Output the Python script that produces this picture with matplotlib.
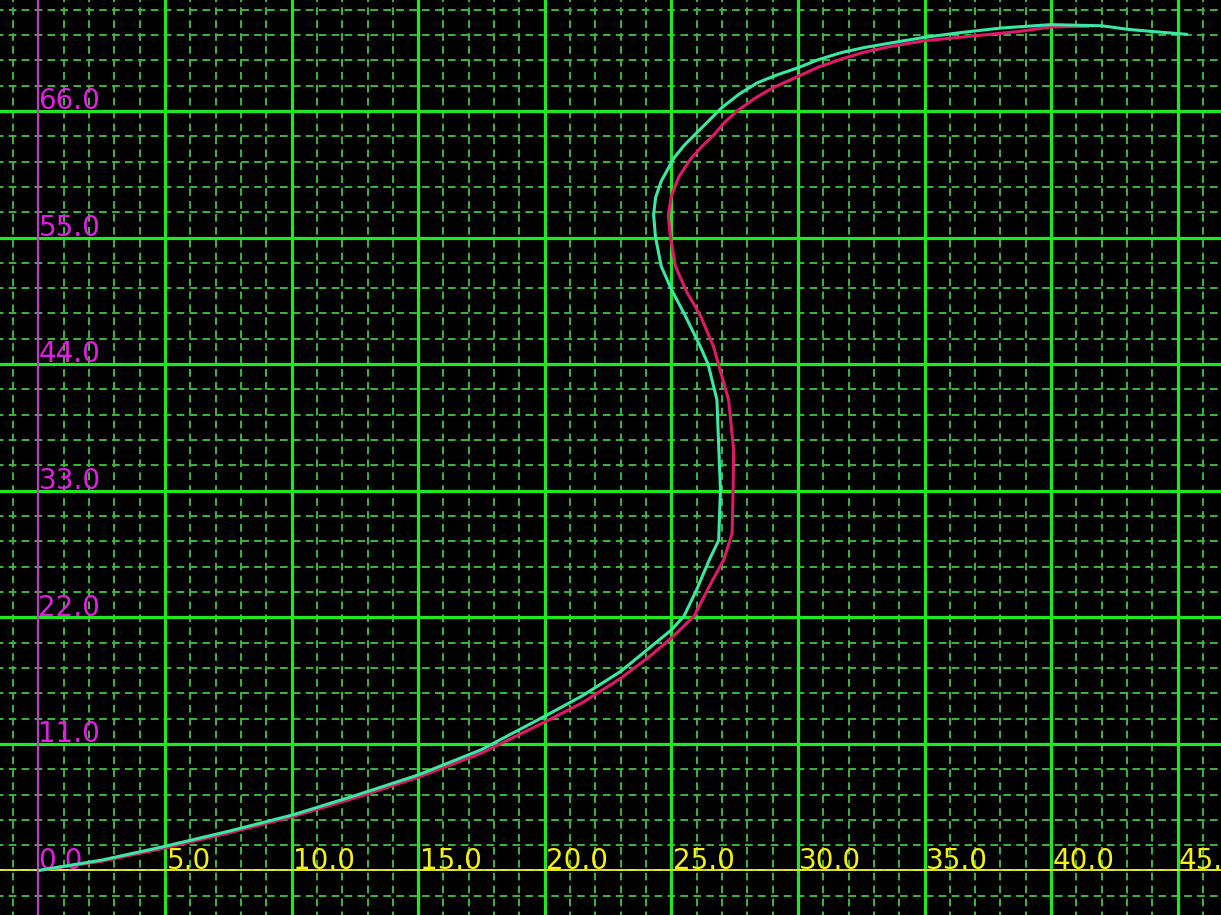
import numpy as np
import matplotlib
matplotlib.use("Agg")
import matplotlib.pyplot as plt

# Trajectory traced by the two runs (x, y)
cyan_x = [0.0, 2.5, 4.9, 7.5, 10.05, 12.5, 15.0, 17.5, 20.0, 21.5, 23.0, 24.0,
          25.0, 25.5, 26.0, 26.5, 26.87, 26.94, 26.85, 26.8, 26.45, 26.15, 25.55,
          25.0, 24.6, 24.37, 24.3, 24.38, 24.6, 25.1, 25.5, 26.0, 26.5, 27.0,
          27.7, 28.4, 29.2, 30.0, 30.8, 31.7, 32.6, 33.65, 35.0, 36.4, 38.0,
          40.0, 42.0, 43.0, 44.0, 45.4]
cyan_y = [0.0, 0.9, 2.05, 3.4, 4.83, 6.5, 8.3, 10.5, 13.4, 15.2, 17.3, 19.1,
          20.9, 22.1, 24.4, 27.0, 28.7, 33.1, 38.0, 40.9, 44.0, 45.5, 48.2,
          50.5, 52.5, 55.1, 57.0, 58.5, 59.9, 61.9, 63.0, 64.1, 65.2, 66.3,
          67.5, 68.45, 69.15, 69.75, 70.45, 71.06, 71.5, 71.9, 72.4, 72.8, 73.2,
          73.5, 73.4, 73.1, 72.9, 72.65]

red_x = [0.0, 2.5, 5.0, 7.5, 10.0, 12.5, 15.0, 17.5, 20.0, 21.5, 23.0, 24.2,
         25.05, 25.9, 26.5, 27.07, 27.4, 27.44, 27.46, 27.26, 26.86, 26.67,
         26.15, 25.6, 25.16, 24.96, 24.88, 25.0, 25.3, 25.75, 26.2, 26.67,
         27.1, 27.6, 28.3, 29.0, 30.0, 30.8, 31.7, 32.6, 33.65, 35.0, 36.4,
         38.7, 40.0, 41.5]
red_y = [0.0, 0.8, 1.95, 3.25, 4.65, 6.3, 8.1, 10.2, 12.9, 14.6, 16.7, 18.7,
         20.3, 22.1, 24.7, 27.0, 29.3, 33.1, 36.6, 40.9, 44.0, 45.5,
         48.2, 50.3, 52.5, 55.1, 56.9, 58.6, 60.3, 61.8, 62.9, 63.9,
         65.0, 66.0, 67.1, 68.0, 69.0, 69.8, 70.5, 71.1, 71.6, 72.1, 72.4,
         72.9, 73.3, 73.35]

x_ticks = [5, 10, 15, 20, 25, 30, 35, 40, 45]
x_labels = ["5.0", "10.0", "15.0", "20.0", "25.0", "30.0", "35.0", "40.0", "45.0"]
y_ticks = [11, 22, 33, 44, 55, 66]
y_labels = ["11.0", "22.0", "33.0", "44.0", "55.0", "66.0"]

plt.rcParams["lines.scale_dashes"] = False

fig = plt.figure(figsize=(12.21, 9.15), dpi=100, facecolor="black")
ax = fig.add_axes([0, 0, 1, 1])
ax.set_facecolor("black")
ax.set_xlim(-1.517, 46.71)
ax.set_ylim(-3.87, 75.64)
ax.axis("off")

major_c = "#1fe81f"
minor_c = "#3cb83c"

# minor dashed grid: every 1.0 in x, every 2.2 in y
for xv in np.arange(-1, 47, 1.0):
    ax.axvline(xv, color=minor_c, lw=1.4, ls=(3, (5.5, 3.8)), zorder=1)
for yv in np.arange(-2.2, 76, 2.2):
    ax.axhline(yv, color=minor_c, lw=1.4, ls=(3, (5.5, 3.8)), zorder=1)

# major solid grid
for xv in np.arange(5, 47, 5):
    ax.axvline(xv, color=major_c, lw=2.3, zorder=2)
for yv in np.arange(11, 76, 11):
    ax.axhline(yv, color=major_c, lw=2.3, zorder=2)

# axes through the origin
ax.axhline(0, color="#f0f030", lw=1.3, zorder=3)
ax.axvline(0, color="#c03cc8", lw=1.6, zorder=3)

# tick labels
lab_font = dict(fontsize=20, family="DejaVu Sans")
for xv, s in zip(x_ticks, x_labels):
    ax.annotate(s, (xv, 0), xytext=(1.0, 1.2), textcoords="offset points",
                ha="left", va="baseline", color="#f4f010", zorder=4, **lab_font)
ax.annotate("0.0", (0, 0), xytext=(0.0, 1.2), textcoords="offset points",
            ha="left", va="baseline", color="#e020e0", zorder=4, **lab_font)
for yv, s in zip(y_ticks, y_labels):
    ax.annotate(s, (0, yv), xytext=(0.0, 1.2), textcoords="offset points",
                ha="left", va="baseline", color="#e020e0", zorder=4, **lab_font)

# curves
ax.plot(red_x, red_y, color="#e0186a", lw=2.2, zorder=5, solid_capstyle="butt")
ax.plot(cyan_x, cyan_y, color="#38e8a4", lw=2.2, zorder=6, solid_capstyle="butt")

fig.savefig("out.png", dpi=100, facecolor="black")
